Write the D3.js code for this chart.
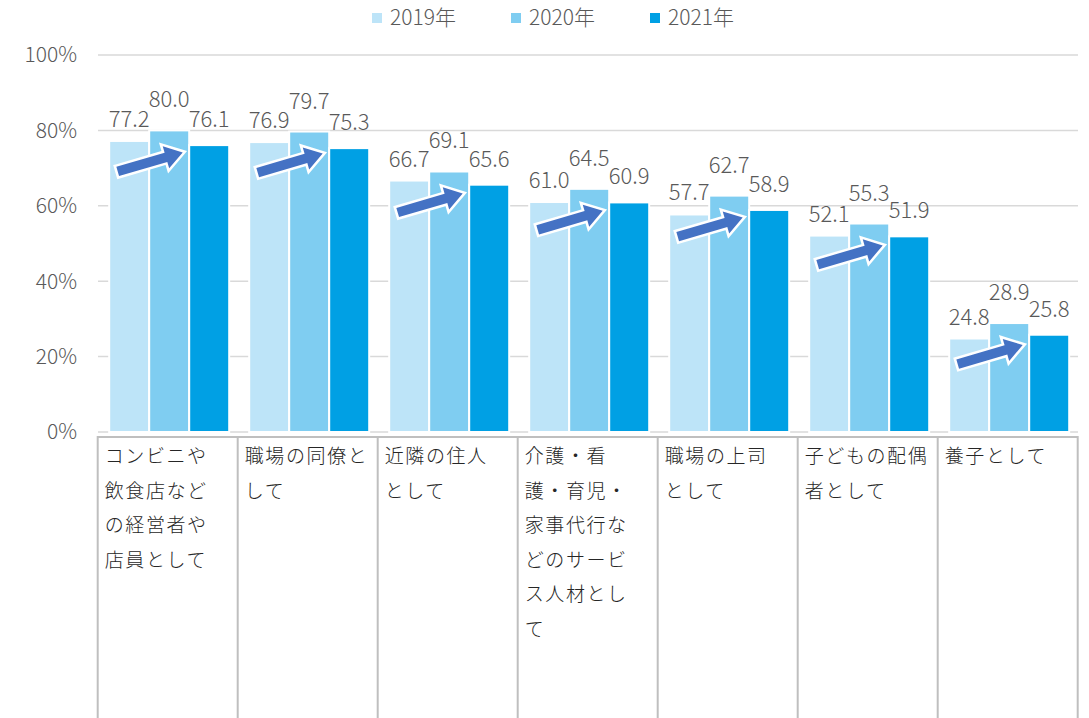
<!DOCTYPE html>
<html><head><meta charset="utf-8">
<script src="https://cdn.jsdelivr.net/npm/d3@7"></script>
<style>
html,body{margin:0;padding:0;background:#fff;}
svg{display:block;font-family:"Noto Sans CJK JP","Noto Sans",sans-serif;font-weight:300;}
</style></head>
<body>
<svg id="c" width="1089" height="718"></svg>
<script>
const categories = ["コンビニや飲食店などの経営者や店員として","職場の同僚として","近隣の住人として","介護・看護・育児・家事代行などのサービス人材として","職場の上司として","子どもの配偶者として","養子として"];
const categoryLines = [
  ["コンビニや","飲食店など","の経営者や","店員として"],
  ["職場の同僚と","して"],
  ["近隣の住人","として"],
  ["介護・看","護・育児・","家事代行な","どのサービ","ス人材とし","て"],
  ["職場の上司","として"],
  ["子どもの配偶","者として"],
  ["養子として"]
];
const seriesNames = ["2019年","2020年","2021年"];
const v2019 = [77.2,76.9,66.7,61.0,57.7,52.1,24.8];
const v2020 = [80.0,79.7,69.1,64.5,62.7,55.3,28.9];
const v2021 = [76.1,75.3,65.6,60.9,58.9,51.9,25.8];
const yTicks = [0,20,40,60,80,100];

const colors = ["#BDE4F8","#7FCDF1","#00A0E4"];
const labelOffsets = [14,23,18];
const values = [v2019,v2020,v2021];

const svg = d3.select("#c");
const x = d3.scaleBand().domain(categories).range([97.7,1077.7]).paddingInner(0).paddingOuter(0);
const xs = d3.scaleBand().domain(seriesNames).range([11.5,131.5]);
const y = d3.scaleLinear().domain([0,100]).range([432,55]);

// gridlines
svg.append("g").selectAll("line").data(yTicks).join("line")
  .attr("x1",98).attr("x2",1078)
  .attr("y1",d=>y(d)).attr("y2",d=>y(d))
  .attr("stroke","#d9d9d9").attr("stroke-width",1.5);

// y tick labels
svg.append("g").selectAll("text").data(yTicks).join("text")
  .attr("x",77).attr("y",d=>y(d)).attr("dy","0.35em")
  .attr("text-anchor","end").attr("fill","#595959")
  .attr("font-size",21).text(d=>d+"%");

// bars
const flat = [];
categories.forEach((c,i)=>seriesNames.forEach((s,j)=>flat.push({c,s,j,v:values[j][i]})));
svg.append("g").selectAll("rect").data(flat).join("rect")
  .attr("x",d=>x(d.c)+xs(d.s)).attr("width",xs.bandwidth())
  .attr("y",d=>y(d.v)).attr("height",d=>y(0)-y(d.v))
  .attr("fill",d=>colors[d.j]).attr("stroke","#fff").attr("stroke-width",2);

// data labels
svg.append("g").selectAll("text").data(flat).join("text")
  .attr("x",d=>x(d.c)+xs(d.s)+xs.bandwidth()/2)
  .attr("y",d=>y(d.v)-labelOffsets[d.j])
  .attr("text-anchor","middle").attr("fill","#595959").attr("font-size",22)
  .text(d=>d.v.toFixed(1));

// arrows
const L=66, s=4.8, h=17, H=11.5;
const arrowPath = `M0,${-s}L${L-h},${-s}L${L-h},${-H}L${L},0L${L-h},${H}L${L-h},${s}L0,${s}Z`;
svg.append("g").selectAll("path").data(categories).join("path")
  .attr("d",arrowPath)
  .attr("transform",(c,i)=>{
    const tipY = y(v2020[i])+22, tailY = tipY+19;
    const tailX = x(c)+20, tipX = x(c)+85;
    const ang = Math.atan2(tipY-tailY, tipX-tailX)*180/Math.PI;
    const len = Math.hypot(tipX-tailX, tipY-tailY);
    return `translate(${tailX},${tailY}) rotate(${ang}) scale(${len/L},1)`;
  })
  .attr("fill","#4472C4").attr("stroke","#fff").attr("stroke-width",5)
  .attr("stroke-linejoin","miter").style("paint-order","stroke");

// category table
const tbl = svg.append("g");
tbl.append("line").attr("x1",97.7).attr("x2",1077.7).attr("y1",437).attr("y2",437)
  .attr("stroke","#bfbfbf").attr("stroke-width",2);
const edges = categories.map(c=>x(c)).concat([x.range()[1]]);
tbl.selectAll("line.v").data(edges).join("line").attr("class","v")
  .attr("x1",d=>d).attr("x2",d=>d).attr("y1",436).attr("y2",718)
  .attr("stroke","#bfbfbf").attr("stroke-width",2);
categories.forEach((c,i)=>{
  tbl.append("g").selectAll("text").data(categoryLines[i]).join("text")
    .attr("x",x(c)+7).attr("y",(d,k)=>463+k*34.6)
    .attr("fill","#262626").attr("font-size",19).attr("letter-spacing","1.6px")
    .text(d=>d);
});

// legend
const lg = svg.append("g");
seriesNames.forEach((s,i)=>{
  const lx = 372 + i*139;
  lg.append("rect").attr("x",lx).attr("y",13).attr("width",10).attr("height",10).attr("fill",colors[i]);
  lg.append("text").attr("x",lx+18).attr("y",18).attr("dy","0.35em")
    .attr("fill","#595959").attr("font-size",21).text(s);
});
</script>
</body></html>
